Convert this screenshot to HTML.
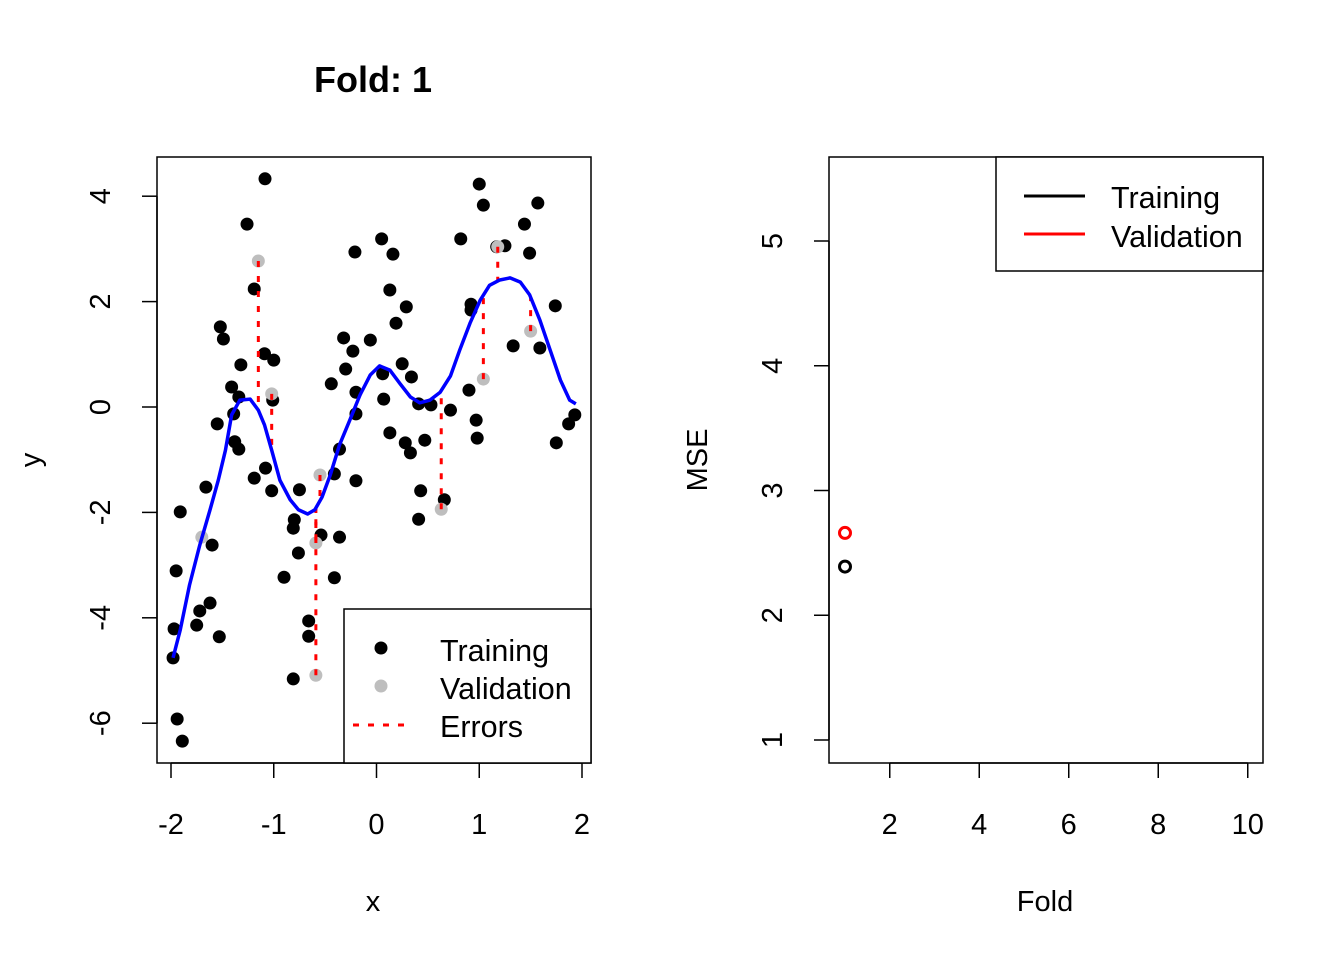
<!DOCTYPE html>
<html><head><meta charset="utf-8">
<style>
html,body{margin:0;padding:0;background:#fff;}
svg{display:block;font-family:"Liberation Sans",Arial,sans-serif;}
</style></head>
<body>
<svg id="fig" width="1344" height="960" viewBox="0 0 1344 960">
  <rect width="1344" height="960" fill="#fff"/>
  <text x="373" y="92" font-size="36" font-weight="bold" text-anchor="middle">Fold: 1</text>
  <g id="left"></g>
  <g id="right"></g>
  <rect x="157" y="157" width="434" height="606" fill="none" stroke="#000" stroke-width="1.5"/>
  <rect x="829" y="157" width="434" height="606" fill="none" stroke="#000" stroke-width="1.5"/>
  <text x="373" y="911" font-size="29" text-anchor="middle">x</text>
  <text x="0" y="0" font-size="29" text-anchor="middle" transform="translate(40,460) rotate(-90)">y</text>
  <text x="1045" y="911" font-size="29" text-anchor="middle">Fold</text>
  <text x="0" y="0" font-size="29" text-anchor="middle" transform="translate(707,460) rotate(-90)">MSE</text>
  <g>
    <rect x="344" y="609" width="247" height="154" fill="#fff" stroke="#000" stroke-width="1.5"/>
    <circle cx="381" cy="648" r="6.5" fill="#000"/>
    <text x="440" y="661" font-size="30.5">Training</text>
    <circle cx="381" cy="686" r="6.5" fill="#bebebe"/>
    <text x="440" y="699" font-size="30.5">Validation</text>
    <line x1="353" y1="725" x2="408" y2="725" stroke="red" stroke-width="3" stroke-dasharray="6,9"/>
    <text x="440" y="737" font-size="30.5">Errors</text>
  </g>
  <g>
    <rect x="996" y="157" width="267" height="114" fill="#fff" stroke="#000" stroke-width="1.5"/>
    <line x1="1024" y1="196" x2="1085" y2="196" stroke="#000" stroke-width="3"/>
    <text x="1111" y="208" font-size="30.5">Training</text>
    <line x1="1024" y1="234" x2="1085" y2="234" stroke="red" stroke-width="3"/>
    <text x="1111" y="247" font-size="30.5">Validation</text>
  </g>
</svg>
<script>
const trainX=[-1.085,-1.26,-1.19,-1.52,-1.49,-1.32,-1.09,-1.00,-1.41,-1.34,-1.39,-1.55,-1.38,-1.34,-1.01,-0.21,-0.32,-0.06,-0.23,-0.30,-0.44,-0.20,-0.20,-0.36,1.00,1.04,1.57,1.44,0.05,0.82,1.17,1.25,1.49,0.16,0.13,0.29,0.19,0.92,0.92,1.74,1.33,1.59,0.25,0.06,0.34,0.07,0.41,0.53,0.72,0.90,0.97,0.98,0.13,0.28,0.47,0.33,1.75,1.93,1.87,-1.08,-1.19,-1.66,-1.02,-0.75,-0.41,-0.20,0.43,0.66,0.41,-1.91,-0.80,-0.81,-0.54,-0.36,-1.60,-0.76,-1.95,-0.90,-0.41,-1.62,-1.72,-1.75,-1.97,-1.53,-0.66,-0.66,-1.98,-0.81,-1.94,-1.89];
const trainY=[4.33,3.47,2.24,1.52,1.29,0.80,1.01,0.89,0.38,0.19,-0.13,-0.32,-0.66,-0.80,0.13,2.94,1.31,1.27,1.06,0.72,0.44,0.28,-0.13,-0.80,4.23,3.83,3.87,3.47,3.19,3.19,3.04,3.06,2.92,2.90,2.22,1.90,1.59,1.95,1.84,1.92,1.16,1.12,0.82,0.63,0.57,0.15,0.06,0.04,-0.06,0.32,-0.25,-0.59,-0.49,-0.68,-0.63,-0.87,-0.68,-0.15,-0.32,-1.16,-1.35,-1.52,-1.59,-1.57,-1.27,-1.40,-1.59,-1.76,-2.13,-1.99,-2.14,-2.30,-2.43,-2.47,-2.62,-2.77,-3.11,-3.23,-3.24,-3.72,-3.87,-4.14,-4.21,-4.36,-4.06,-4.35,-4.76,-5.16,-5.92,-6.34];
const valX=[-1.15,-1.02,-0.55,-0.59,-0.59,0.63,1.18,1.04,1.50,-1.70];
const valY=[2.77,0.25,-1.29,-2.58,-5.09,-1.94,3.04,0.53,1.44,-2.47];
const fitX=[-1.98,-1.91,-1.82,-1.72,-1.62,-1.54,-1.47,-1.41,-1.33,-1.23,-1.15,-1.09,-1.02,-0.94,-0.84,-0.76,-0.67,-0.60,-0.53,-0.45,-0.36,-0.26,-0.16,-0.06,0.03,0.13,0.23,0.33,0.42,0.52,0.62,0.72,0.81,0.91,1.01,1.10,1.20,1.30,1.40,1.49,1.59,1.69,1.79,1.88,1.94];
const fitY=[-4.76,-4.23,-3.38,-2.62,-1.95,-1.39,-0.82,-0.15,0.13,0.15,-0.06,-0.34,-0.82,-1.39,-1.76,-1.95,-2.03,-1.95,-1.71,-1.29,-0.72,-0.25,0.23,0.61,0.78,0.70,0.44,0.19,0.08,0.13,0.28,0.59,1.08,1.59,2.03,2.31,2.41,2.45,2.37,2.13,1.65,1.08,0.51,0.13,0.06];
const xTicks=[-2,-1,0,1,2];
const yTicks=[-6,-4,-2,0,2,4];
const folds=[1];
const trainMSE=[2.39];
const valMSE=[2.66];
const foldTicks=[2,4,6,8,10];
const mseTicks=[1,2,3,4,5];

const NS="http://www.w3.org/2000/svg";
function mk(parent,tag,attrs){const e=document.createElementNS(NS,tag);for(const k in attrs)e.setAttribute(k,attrs[k]);parent.appendChild(e);return e;}
const sx=v=>171+(v+2)*102.75;
const sy=v=>407-v*52.7;
const rx=v=>845+(v-1)*44.75;
const ry=v=>740-(v-1)*124.75;
function fitAt(x){for(let i=0;i<fitX.length-1;i++){if(x>=fitX[i]&&x<=fitX[i+1]){const t=(x-fitX[i])/(fitX[i+1]-fitX[i]);return fitY[i]+t*(fitY[i+1]-fitY[i]);}}return x<fitX[0]?fitY[0]:fitY[fitY.length-1];}

const L=document.getElementById('left');
let ax=mk(L,'line',{x1:sx(xTicks[0]),y1:763,x2:sx(xTicks[xTicks.length-1]),y2:763,stroke:'#000','stroke-width':1.5});


xTicks.forEach(t=>{
  const tl=mk(L,'line',{x1:sx(t),y1:763,x2:sx(t),y2:778,stroke:'#000','stroke-width':1.5});
  
  
  const tx=mk(L,'text',{x:sx(t),y:834,'font-size':29,'text-anchor':'middle'});
  tx.textContent=String(t);
  
  
});
let ay=mk(L,'line',{x1:157,y1:sy(yTicks[0]),x2:157,y2:sy(yTicks[yTicks.length-1]),stroke:'#000','stroke-width':1.5});


yTicks.forEach(t=>{
  const tl=mk(L,'line',{x1:142,y1:sy(t),x2:157,y2:sy(t),stroke:'#000','stroke-width':1.5});
  
  
  const tx=mk(L,'text',{x:0,y:0,'font-size':29,'text-anchor':'middle',transform:`translate(110,${sy(t)}) rotate(-90)`});
  tx.textContent=String(t);
  
  
});
trainX.forEach((x,i)=>{
  const c=mk(L,'circle',{cx:sx(x),cy:sy(trainY[i]),r:6.5,fill:'#000'});
  
  
});
valX.forEach((x,i)=>{
  const c=mk(L,'circle',{cx:sx(x),cy:sy(valY[i]),r:6.5,fill:'#bebebe'});
  
  
});
valX.forEach((x,i)=>{
  const l=mk(L,'line',{x1:sx(x),y1:sy(valY[i]),x2:sx(x),y2:sy(fitAt(x)),stroke:'red','stroke-width':3,'stroke-dasharray':'6,9'});
  
  
});
const p=mk(L,'polyline',{points:fitX.map((x,i)=>sx(x)+','+sy(fitY[i])).join(' '),fill:'none',stroke:'#0000ff','stroke-width':3.5,'stroke-linejoin':'round'});



const R=document.getElementById('right');
let bx=mk(R,'line',{x1:rx(foldTicks[0]),y1:763,x2:rx(foldTicks[foldTicks.length-1]),y2:763,stroke:'#000','stroke-width':1.5});


foldTicks.forEach(t=>{
  const tl=mk(R,'line',{x1:rx(t),y1:763,x2:rx(t),y2:778,stroke:'#000','stroke-width':1.5});
  
  
  const tx=mk(R,'text',{x:rx(t),y:834,'font-size':29,'text-anchor':'middle'});
  tx.textContent=String(t);
  
  
});
let by=mk(R,'line',{x1:829,y1:ry(mseTicks[0]),x2:829,y2:ry(mseTicks[mseTicks.length-1]),stroke:'#000','stroke-width':1.5});


mseTicks.forEach(t=>{
  const tl=mk(R,'line',{x1:814,y1:ry(t),x2:829,y2:ry(t),stroke:'#000','stroke-width':1.5});
  
  
  const tx=mk(R,'text',{x:0,y:0,'font-size':29,'text-anchor':'middle',transform:`translate(782,${ry(t)}) rotate(-90)`});
  tx.textContent=String(t);
  
  
});
folds.forEach((f,i)=>{
  const a=mk(R,'circle',{cx:rx(f),cy:ry(trainMSE[i]),r:5.5,fill:'none',stroke:'#000','stroke-width':3});
  
  
  const b=mk(R,'circle',{cx:rx(f),cy:ry(valMSE[i]),r:5.5,fill:'none',stroke:'red','stroke-width':3});
  
  
});
</script>
</body></html>
